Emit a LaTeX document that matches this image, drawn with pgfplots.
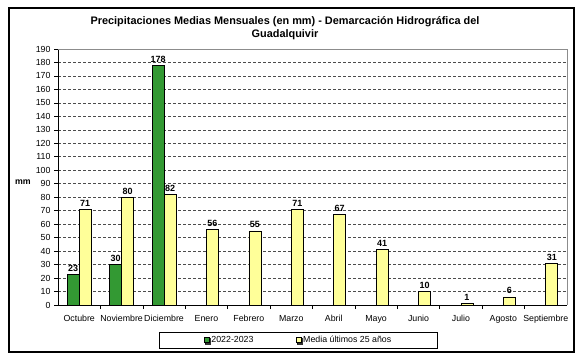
\documentclass[border=0pt]{standalone}
\usepackage{pgfplots}
\pgfplotsset{compat=1.18}
\usepackage{fontspec}
\setmainfont{Liberation Sans}
\usetikzlibrary{shadows}
\definecolor{bargreen}{HTML}{339933}
\definecolor{baryellow}{HTML}{FFFF99}
\pgfplotstableread{
x a b
0 23 71
1 30 80
2 178 82
3 nan 56
4 nan 55
5 nan 71
6 nan 67
7 nan 41
8 nan 10
9 nan 1
10 nan 6
11 nan 31
}\datatable
\begin{document}
\begin{tikzpicture}
\useasboundingbox (0pt,0pt) rectangle (585pt,362pt);
\draw[line width=1.3pt] (9pt,10pt) rectangle (574pt,354pt);
\node[font=\fontsize{10.9}{13.5}\selectfont\bfseries, align=center] at (285pt,334pt) {Precipitaciones Medias Mensuales (en mm) - Demarcación Hidrográfica del\\Guadalquivir};
\node[font=\fontsize{8.8}{10}\selectfont\bfseries] at (23pt,180pt) {mm};
\begin{axis}[
  at={(58pt,57pt)}, anchor=south west,
  scale only axis, width=509pt, height=256pt,
  xmin=-0.5, xmax=11.5, ymin=0, ymax=190,
  ybar=0pt, bar width=12pt,
  ytick={0,10,...,190},
  xtick={0,...,11},
  xticklabels={Octubre,Noviembre,Diciembre,Enero,Febrero,Marzo,Abril,Mayo,Junio,Julio,Agosto,Septiembre},
  minor xtick={0.5,1.5,...,10.5},
  x tick style={draw=none},
  minor x tick style={draw=black, line width=0.6pt},
  y tick style={draw=black, line width=0.6pt},
  tick align=outside,
  major tick length=4pt, minor tick length=4pt,
  ymajorgrids,
  grid style={densely dashed, black!70, line width=0.6pt},
  axis x line*=bottom, axis y line*=left,
  x axis line style={draw=black, line width=0.8pt},
  y axis line style={draw=black, line width=0.8pt},
  extra description/.code={
    \draw[black!45, line width=0.6pt] (axis cs:-0.5,190) -- (axis cs:11.5,190) -- (axis cs:11.5,0);
  },
  /pgf/number format/assume math mode=true,
  yticklabel style={font=\fontsize{8.8}{10}\selectfont},
  xticklabel style={font=\fontsize{8.8}{10}\selectfont, yshift=-3pt},
  nodes near coords,
  every node near coord/.append style={font=\fontsize{9}{10}\selectfont\bfseries, black, inner sep=2.5pt},
  legend columns=2,
  legend style={at={(0.4725,-0.137)}, anchor=center, draw=black, line width=0.6pt,
    font=\fontsize{8.8}{10}\selectfont, inner xsep=44pt, inner ysep=2pt,
    /tikz/every even column/.append style={column sep=40pt},
    drop shadow={shadow xshift=1.2pt, shadow yshift=-1.2pt, fill=black, opacity=0.8}},
  legend image code/.code={\draw[#1, line width=0.5pt] (0pt,-2.6pt) rectangle (5.2pt,2.6pt);},
  legend cell align=left,
]
\addplot[fill=bargreen, draw=black, line width=0.7pt] table[x=x, y=a] {\datatable};
\addlegendentry{2022-2023}
\addplot[fill=baryellow, draw=black, line width=0.7pt] table[x=x, y=b] {\datatable};
\addlegendentry{Media últimos 25 años}
\end{axis}
\end{tikzpicture}
\end{document}
